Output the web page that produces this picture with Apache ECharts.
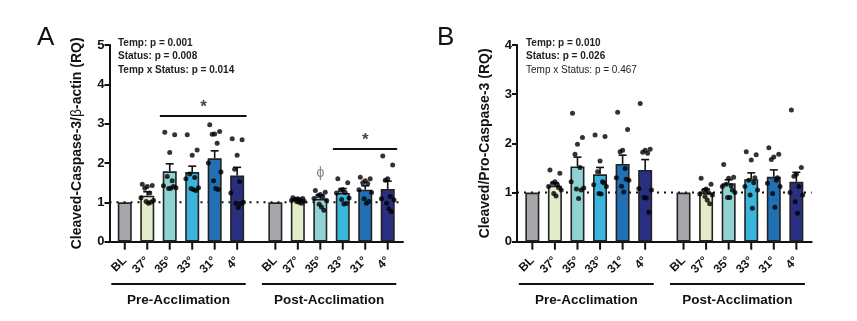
<!DOCTYPE html>
<html><head><meta charset="utf-8">
<script src="https://cdn.jsdelivr.net/npm/echarts@6/dist/echarts.min.js"></script>
<style>html,body{margin:0;padding:0;background:#fff}#c{width:857px;height:321px}</style>
</head><body><div id="c"></div>
<script>
// ---------- DATA ----------
const categories = ['BL', '37°', '35°', '33°', '31°', '4°'];
const groups = ['Pre-Acclimation', 'Post-Acclimation'];

// Panel A: Cleaved-Caspase-3/β-actin (RQ)
const A_preMean  = [1.00, 1.17, 1.79, 1.77, 2.12, 1.68];
const A_preSem   = [0.00, 0.10, 0.19, 0.15, 0.19, 0.21];
const A_postMean = [1.00, 1.07, 1.09, 1.24, 1.32, 1.34];
const A_postSem  = [0.00, 0.03, 0.10, 0.11, 0.10, 0.20];
const A_prePts = [
  [],
  [1.46, 1.43, 1.40, 1.36, 1.24, 1.12, 1.05, 1.02, 0.98, 1.00],
  [2.78, 2.72, 2.27, 1.66, 1.55, 1.42, 1.37, 1.35, 1.36, 1.40],
  [2.72, 2.33, 2.20, 1.72, 1.63, 1.60, 1.37, 1.35, 1.33, 1.30],
  [2.97, 2.80, 2.74, 2.73, 2.50, 2.00, 1.77, 1.55, 1.35, 1.33],
  [2.62, 2.59, 2.20, 1.84, 1.53, 1.24, 1.00, 0.98, 0.87, 0.97]
];
const A_postPts = [
  [],
  [1.12, 1.10, 1.09, 1.08, 1.06, 1.05, 1.03, 1.02, 1.00, 0.98],
  [1.30, 1.26, 1.20, 1.17, 1.14, 1.10, 1.05, 0.95, 0.88, 0.80],
  [1.60, 1.50, 1.33, 1.31, 1.25, 1.24, 1.11, 1.07, 0.96, 0.97],
  [1.64, 1.60, 1.55, 1.50, 1.48, 1.32, 1.25, 1.09, 0.98, 1.02],
  [2.18, 1.95, 1.60, 1.56, 1.15, 1.09, 1.06, 0.98, 0.84, 0.77]
];
const A_stats = ['Temp: p = 0.001', 'Status: p = 0.008', 'Temp x Status: p = 0.014'];

// Panel B: Cleaved/Pro-Caspase-3 (RQ)
const B_preMean  = [1.00, 1.14, 1.53, 1.37, 1.58, 1.46];
const B_preSem   = [0.00, 0.06, 0.19, 0.14, 0.18, 0.21];
const B_postMean = [1.00, 1.00, 1.19, 1.27, 1.32, 1.22];
const B_postSem  = [0.00, 0.07, 0.07, 0.13, 0.14, 0.19];
const B_prePts = [
  [],
  [1.46, 1.39, 1.22, 1.19, 1.16, 1.12, 1.05, 0.98, 0.93, 1.10],
  [2.61, 2.12, 1.98, 1.78, 1.51, 1.22, 1.09, 1.07, 0.88, 1.05],
  [2.17, 2.14, 1.64, 1.42, 1.22, 1.16, 1.12, 0.98, 0.97, 1.20],
  [2.63, 2.28, 1.86, 1.83, 1.49, 1.30, 1.25, 1.13, 1.01, 1.27],
  [2.81, 1.88, 1.86, 1.82, 1.80, 1.08, 1.05, 0.90, 0.89, 0.60]
];
const B_postPts = [
  [],
  [1.29, 1.17, 1.07, 1.04, 1.00, 0.97, 0.95, 0.92, 0.85, 0.77],
  [1.57, 1.31, 1.29, 1.17, 1.14, 1.12, 1.00, 0.90, 0.90, 1.05],
  [1.83, 1.77, 1.66, 1.25, 1.20, 1.12, 1.05, 0.95, 0.68, 1.30],
  [1.91, 1.78, 1.72, 1.67, 1.25, 1.19, 1.12, 0.98, 0.70, 1.30],
  [2.68, 1.51, 1.37, 1.33, 1.12, 1.00, 0.95, 0.81, 0.58]
];
const B_stats = ['Temp: p = 0.010', 'Status: p = 0.026', 'Temp x Status: p = 0.467'];

// significance annotations [group, fromCat, toCat, y]
const A_sig = [[0, 2, 5, 3.2], [1, 3, 5, 2.37]];
const A_phi = [[1, 2, 1.74]];

// ---------- STYLE / LAYOUT ----------
const palette = ['#a7a7ab', '#e2ecc8', '#8fd4d2', '#3bb5dc', '#2170b4', '#282f80'];
const FONT = '"Liberation Sans", Arial, Helvetica, sans-serif';
const GAP = 6.7;           // x offset of the post-acclimation group
const XMIN = -0.68, XMAX = 12.38;
const JIT = [-0.22, 0.22, 0, -0.11, 0.11, -0.28, 0.28, -0.05, 0.05, 0.16];
const positions = [];
for (let g = 0; g < 2; g++) for (let i = 0; i < 6; i++) positions.push(g * GAP + i);

function barData(pre, post) {
  const out = [];
  [pre, post].forEach((arr, g) => arr.forEach((v, i) => out.push({
    value: [g * GAP + i, v],
    itemStyle: { color: palette[i] }
  })));
  return out;
}
function errData(pre, post, preS, postS) {
  const out = [];
  [[pre, preS], [post, postS]].forEach(([m, s], g) => m.forEach((v, i) => { if (s[i] > 0) out.push([g * GAP + i, v, s[i]]); }));
  return out;
}
function ptData(pre, post) {
  const out = [];
  [pre, post].forEach((arr, g) => arr.forEach((pts, i) => pts.forEach((v, k) => out.push([g * GAP + i + JIT[k % JIT.length], v]))));
  return out;
}
function xLabel(v) {
  const idx = positions.findIndex(p => Math.abs(p - v) < 1e-6);
  return idx < 0 ? '' : categories[idx % 6];
}

function panelAxes(gi, yMax, name, rich) {
  const x = {
    type: 'value', gridIndex: gi, min: XMIN, max: XMAX,
    axisLine: { show: true, onZero: false, lineStyle: { color: '#111', width: 2 } },
    axisTick: { show: false },
    axisLabel: { show: true, customValues: positions, rotate: 45, formatter: xLabel, margin: 17,
      fontFamily: FONT, fontWeight: 'bold', fontSize: 12, color: '#111' },
    splitLine: { show: false }
  };
  const y = {
    type: 'value', gridIndex: gi, min: 0, max: yMax, interval: 1,
    name: name, nameLocation: 'middle', nameGap: 25,
    nameTextStyle: { fontFamily: FONT, fontWeight: 'bold', fontSize: 14, color: '#111', rich: rich },
    axisLine: { show: true, onZero: false, lineStyle: { color: '#111', width: 2 } },
    axisTick: { show: true, length: 5, lineStyle: { color: '#111', width: 2 } },
    axisLabel: { fontFamily: FONT, fontWeight: 'bold', fontSize: 13, color: '#111', margin: 5 },
    splitLine: { show: false }
  };
  return [x, y];
}

function panelSeries(gi, pre, post, preS, postS, prePts, postPts) {
  return [
    { type: 'line', xAxisIndex: gi, yAxisIndex: gi, data: [[XMIN, 1], [XMAX, 1]], showSymbol: false, silent: true,
      lineStyle: { color: '#111', width: 2, type: [2, 5] }, z: 1 },
    { type: 'bar', xAxisIndex: gi, yAxisIndex: gi, data: barData(pre, post), barWidth: 14,
      itemStyle: { borderColor: '#222', borderWidth: 1.6 }, z: 2 },
    { type: 'custom', xAxisIndex: gi, yAxisIndex: gi, data: errData(pre, post, preS, postS), z: 3,
      renderItem: function (params, api) {
        const x = api.value(0), m = api.value(1), s = api.value(2);
        const p0 = api.coord([x, m]), p1 = api.coord([x, m + s]);
        const st = { stroke: '#111', lineWidth: 1.6 };
        return { type: 'group', children: [
          { type: 'line', shape: { x1: p0[0], y1: p0[1], x2: p1[0], y2: p1[1] }, style: st },
          { type: 'line', shape: { x1: p1[0] - 4, y1: p1[1], x2: p1[0] + 4, y2: p1[1] }, style: st }
        ] };
      } },
    { type: 'scatter', xAxisIndex: gi, yAxisIndex: gi, data: ptData(prePts, postPts), symbolSize: 5,
      itemStyle: { color: '#000' }, z: 4 }
  ];
}

const axA = panelAxes(0, 5, '{b|Cleaved-Caspase-3/}{n|β}{b|-actin (RQ)}', {
  b: { fontFamily: FONT, fontWeight: 'bold', fontSize: 14, color: '#111' },
  n: { fontFamily: FONT, fontWeight: 'normal', fontSize: 14, color: '#111' } });
const axB = panelAxes(1, 4, 'Cleaved/Pro-Caspase-3 (RQ)', null);

const series = [].concat(
  panelSeries(0, A_preMean, A_postMean, A_preSem, A_postSem, A_prePts, A_postPts),
  panelSeries(1, B_preMean, B_postMean, B_preSem, B_postSem, B_prePts, B_postPts)
);
// significance bars + labels (panel A)
series.push({
  type: 'scatter', xAxisIndex: 0, yAxisIndex: 0, symbolSize: 0, silent: true, z: 5,
  data: A_sig.map(s => ({ value: [s[0] * GAP + (s[1] + s[2]) / 2, s[3]], name: '*',
      label: { offset: [0, -8], fontSize: 17 } }))
    .concat(A_phi.map(p => ({ value: [p[0] * GAP + p[1], p[2]], name: 'ϕ',
      label: { fontWeight: 'normal', color: '#666', fontSize: 14 } }))),
  label: { show: true, formatter: p => p.name, position: 'inside',
    fontFamily: FONT, fontSize: 15, fontWeight: 'bold', color: '#111' },
  markLine: { silent: true, symbol: 'none', z: 5, label: { show: false },
    lineStyle: { color: '#111', width: 2, type: 'solid' },
    data: A_sig.map(s => [{ coord: [s[0] * GAP + s[1] - 0.44, s[3]] }, { coord: [s[0] * GAP + s[2] + 0.42, s[3]] }]) }
});

const chart = echarts.init(document.getElementById('c'));
chart.setOption({
  animation: false,
  grid: [
    { left: 109.5, right: 454, top: 45, bottom: 79.3 },
    { left: 517, right: 45.3, top: 45, bottom: 79.3 }
  ],
  xAxis: [axA[0], axB[0]],
  yAxis: [axA[1], axB[1]],
  series: series
});

// ---------- GRAPHIC ANNOTATIONS ----------
const gfx = [];
function statText(x, lines, boldN) {
  lines.forEach((t, i) => gfx.push({ type: 'text', left: x, top: 38 + i * 13.7,
    style: { text: t, fontFamily: FONT, fontSize: 10, fontWeight: i < boldN ? 'bold' : 'normal', fill: '#222' } }));
}
statText(118, A_stats, 3);
statText(526, B_stats, 2);
gfx.push({ type: 'text', left: 37, top: 25, style: { text: 'A', fontFamily: FONT, fontSize: 26, fill: '#111' } });
gfx.push({ type: 'text', left: 437, top: 25, style: { text: 'B', fontFamily: FONT, fontSize: 26, fill: '#111' } });
[0, 1].forEach(ax => {
  // category ticks below the x axis
  positions.forEach(p => {
    const px = chart.convertToPixel({ xAxisIndex: ax, yAxisIndex: ax }, [p, 0]);
    gfx.push({ type: 'line', shape: { x1: px[0], y1: px[1], x2: px[0], y2: px[1] + 8 },
      style: { stroke: '#111', lineWidth: 2 } });
  });
  groups.forEach((gname, g) => {
    const x1 = chart.convertToPixel({ xAxisIndex: ax }, g * GAP - 0.6);
    const x2 = chart.convertToPixel({ xAxisIndex: ax }, g * GAP + 5.38);
    gfx.push({ type: 'line', shape: { x1: x1, y1: 284, x2: x2, y2: 284 }, style: { stroke: '#111', lineWidth: 2 } });
    gfx.push({ type: 'text', x: (x1 + x2) / 2, y: 300,
      style: { text: gname, fontFamily: FONT, fontSize: 13.5, fontWeight: 'bold', fill: '#111', align: 'center', verticalAlign: 'middle' } });
  });
});
chart.setOption({ graphic: gfx });
</script></body></html>
